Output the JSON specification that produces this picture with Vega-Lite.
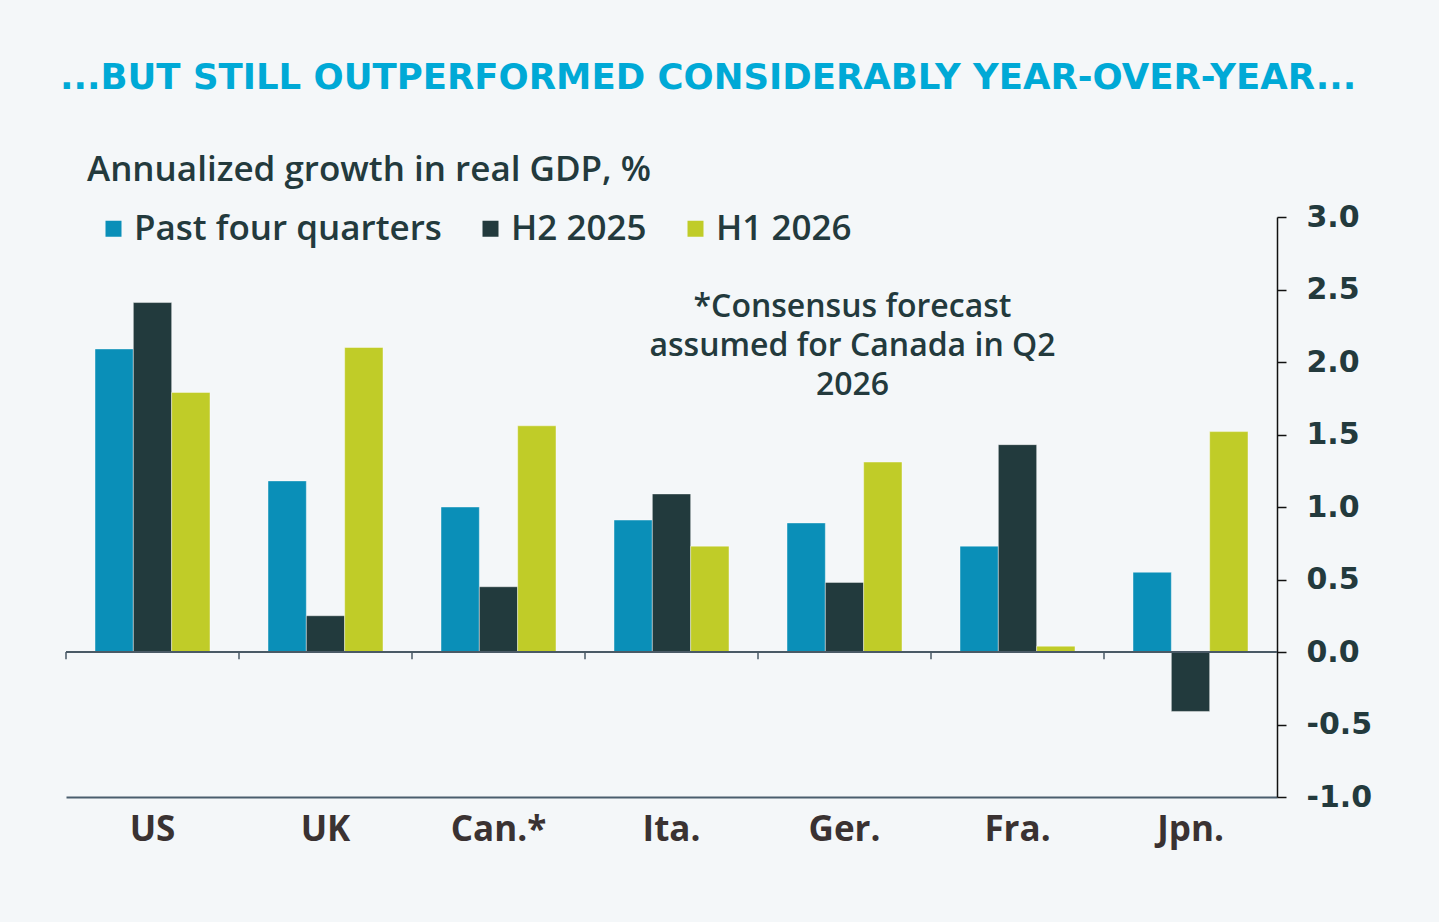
{
  "$schema": "https://vega.github.io/schema/vega-lite/v6.json",
  "width": 1211,
  "height": 580,
  "autosize": {"type": "none"},
  "padding": {"left": 66, "top": 217, "right": 162, "bottom": 125},
  "background": "#f4f7f9",
  "title": {
    "text": "...BUT STILL OUTPERFORMED CONSIDERABLY YEAR-OVER-YEAR...",
    "anchor": "start",
    "frame": "group",
    "font": "DejaVu Sans",
    "fontSize": 35.5,
    "fontWeight": 700,
    "color": "#00a9d6",
    "dx": -6,
    "offset": 57,
    "limit": 1400
  },
  "datasets": {
    "gdp": [
      {"country": "US", "series": "Past four quarters", "value": 2.09},
      {"country": "US", "series": "H2 2025", "value": 2.41},
      {"country": "US", "series": "H1 2026", "value": 1.79},
      {"country": "UK", "series": "Past four quarters", "value": 1.18},
      {"country": "UK", "series": "H2 2025", "value": 0.25},
      {"country": "UK", "series": "H1 2026", "value": 2.10},
      {"country": "Can.*", "series": "Past four quarters", "value": 1.00},
      {"country": "Can.*", "series": "H2 2025", "value": 0.45},
      {"country": "Can.*", "series": "H1 2026", "value": 1.56},
      {"country": "Ita.", "series": "Past four quarters", "value": 0.91},
      {"country": "Ita.", "series": "H2 2025", "value": 1.09},
      {"country": "Ita.", "series": "H1 2026", "value": 0.73},
      {"country": "Ger.", "series": "Past four quarters", "value": 0.89},
      {"country": "Ger.", "series": "H2 2025", "value": 0.48},
      {"country": "Ger.", "series": "H1 2026", "value": 1.31},
      {"country": "Fra.", "series": "Past four quarters", "value": 0.73},
      {"country": "Fra.", "series": "H2 2025", "value": 1.43},
      {"country": "Fra.", "series": "H1 2026", "value": 0.04},
      {"country": "Jpn.", "series": "Past four quarters", "value": 0.55},
      {"country": "Jpn.", "series": "H2 2025", "value": -0.41},
      {"country": "Jpn.", "series": "H1 2026", "value": 1.52}
    ],
    "countries": [
      {"country": "US"}, {"country": "UK"}, {"country": "Can.*"}, {"country": "Ita."},
      {"country": "Ger."}, {"country": "Fra."}, {"country": "Jpn."}
    ],
    "note": [
      {"country": "Ger.", "note": "*Consensus forecast\nassumed for Canada in Q2\n2026"}
    ]
  },
  "layer": [
    {
      "data": {"name": "gdp"},
      "mark": {"type": "bar", "stroke": "#ffffff", "strokeWidth": 0.6, "strokeOpacity": 0.7},
      "encoding": {
        "x": {
          "field": "country",
          "type": "nominal",
          "sort": null,
          "title": null,
          "scale": {"paddingInner": 0, "paddingOuter": 0},
          "axis": {
            "orient": "bottom",
            "ticks": false,
            "domainColor": "#4a5e6e",
            "domainWidth": 2,
            "labelAngle": 0,
            "labelFont": "Open Sans",
            "labelFontSize": 35,
            "labelFontWeight": 700,
            "labelColor": "#3a3232",
            "labelPadding": 15
          }
        },
        "xOffset": {
          "field": "series",
          "type": "nominal",
          "sort": ["Past four quarters", "H2 2025", "H1 2026"],
          "scale": {"paddingInner": 0, "paddingOuter": 0.757}
        },
        "y": {
          "field": "value",
          "type": "quantitative",
          "title": null,
          "scale": {"domain": [-1, 3], "nice": false, "zero": false},
          "axis": {
            "orient": "right",
            "values": [-1, -0.5, 0, 0.5, 1, 1.5, 2, 2.5, 3],
            "labelExpr": "datum.value < 0 ? '-' + format(-datum.value, '.1f') : format(datum.value, '.1f')",
            "domainColor": "#111111",
            "domainWidth": 1.5,
            "tickColor": "#111111",
            "tickWidth": 1.5,
            "tickSize": 9,
            "labelFont": "DejaVu Sans",
            "labelFontSize": 30,
            "labelFontWeight": 700,
            "labelColor": "#233a3d",
            "labelPadding": 20,
            "grid": false
          }
        },
        "color": {
          "field": "series",
          "type": "nominal",
          "sort": ["Past four quarters", "H2 2025", "H1 2026"],
          "scale": {
            "domain": ["Past four quarters", "H2 2025", "H1 2026"],
            "range": ["#0a8fb8", "#223a3d", "#c0cc28"]
          },
          "legend": {
            "orient": "none",
            "legendX": 21,
            "legendY": -64,
            "direction": "horizontal",
            "title": "Annualized growth in real GDP, %",
            "titleFont": "Open Sans",
            "titleFontSize": 35,
            "titleFontWeight": 600,
            "titleColor": "#233a3d",
            "titlePadding": 23,
            "titleLimit": 1000,
            "symbolType": "square",
            "symbolSize": 256,
            "symbolStrokeWidth": 0,
            "symbolOffset": 9,
            "labelFont": "Open Sans",
            "labelFontSize": 35,
            "labelFontWeight": 600,
            "labelColor": "#233a3d",
            "labelOffset": 3,
            "columnPadding": 22,
            "labelLimit": 500
          }
        }
      }
    },
    {
      "data": {"name": "countries"},
      "mark": {"type": "rule", "color": "#4a5a66", "strokeWidth": 2},
      "encoding": {
        "y": {"datum": 0, "type": "quantitative"}
      }
    },
    {
      "data": {"name": "countries"},
      "mark": {"type": "rule", "color": "#4a5a66", "strokeWidth": 1.5},
      "encoding": {
        "x": {"field": "country", "type": "nominal", "sort": null, "bandPosition": 0, "title": null},
        "y": {"datum": 0, "type": "quantitative"},
        "y2": {"datum": -0.05}
      }
    },
    {
      "data": {"name": "note"},
      "mark": {
        "type": "text",
        "lineBreak": "\n",
        "align": "center",
        "baseline": "middle",
        "font": "Open Sans",
        "fontSize": 32,
        "fontWeight": 600,
        "lineHeight": 39,
        "color": "#233a3d",
        "dx": 8
      },
      "encoding": {
        "x": {"field": "country", "type": "nominal", "sort": null, "title": null},
        "y": {"datum": 2.38, "type": "quantitative"},
        "text": {"field": "note"}
      }
    }
  ],
  "config": {
    "view": {"stroke": null},
    "axis": {"grid": false}
  }
}
